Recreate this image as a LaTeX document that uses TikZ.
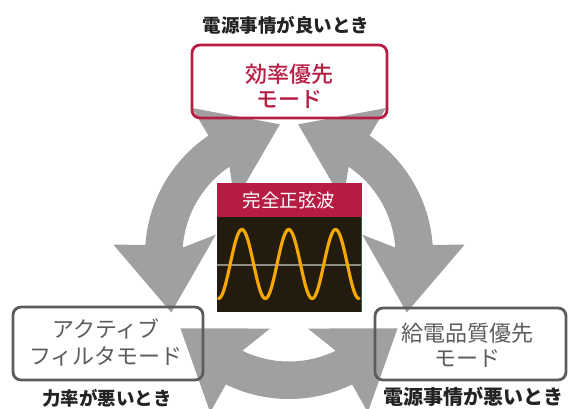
\documentclass[tikz,border=0pt]{standalone}
\usepackage{fontspec}
\setmainfont{Noto Sans CJK JP}
\newfontfamily\jpmed{Noto Sans CJK JP Medium}
\definecolor{crim}{RGB}{183,28,66}
\definecolor{agray}{RGB}{160,160,160}
\definecolor{bgray}{RGB}{92,92,92}
\definecolor{panelbg}{RGB}{36,27,15}
\definecolor{wave}{RGB}{245,168,0}
\definecolor{txt}{RGB}{35,35,35}
\definecolor{axisgray}{RGB}{140,140,130}
\begin{document}
\begin{tikzpicture}[x=1pt,y=1pt,yscale=-1,
  boxline/.style={line width=2.8pt, rounded corners=8pt},
  boxtext/.style={align=center, inner sep=0pt, font=\fontsize{22}{25}\selectfont},
  lab/.style={inner sep=0pt, text=txt, font=\bfseries\fontsize{18.5}{20}\selectfont}]
\useasboundingbox (0,0) rectangle (568,409);
% three double-headed curved arrows
\foreach \r in {0,120,240}{
  \begin{scope}[shift={(289,255)},rotate=\r]
    \fill[agray] (184:144) arc[start angle=184,end angle=236,radius=144]
      -- (236.6:176) -- (266:131) -- (224.5:76) -- (236:106.5)
      arc[start angle=236,end angle=184,radius=106.5]
      -- (195.5:76) -- (154:131) -- (183.4:176) -- cycle;
  \end{scope}
}
% centre panel
\fill[panelbg] (217,217) rectangle (361,312);
\fill[crim] (217,183) rectangle (361,217);
\draw[axisgray, line width=1.3pt] (217,265) -- (361,265);
\draw[wave, line width=3.2pt, line cap=round]
  plot[domain=218.5:359, samples=160, smooth] (\x, {264+34.5*cos(7.6874*(\x-218.5))});
\draw[crim, line width=0.8pt] (361,183) -- (361,312);
\node[text=white, inner sep=0pt, font=\fontsize{18.5}{20}\selectfont] (sine) at (289,200) {完全正弦波};
% boxes
\draw[crim, boxline] (192,45) rectangle (387,118);
\draw[bgray, boxline] (13,307) rectangle (203,380);
\draw[bgray, boxline] (375,308) rectangle (566,380);
\node[boxtext, text=crim, font=\jpmed\fontsize{22}{25}\selectfont] (eff) at (289.5,86) {効率優先\\モード};
\node[boxtext, text=bgray, font=\fontsize{22}{27}\selectfont] (act) at (106,342.5) {アクティブ\\フィルタモード};
\node[boxtext, text=bgray] (qual) at (467,345) {給電品質優先\\モード};
% labels
\node[lab] (good) at (286,25) {電源事情が良いとき};
\node[lab] (pf) at (107,398) {力率が悪いとき};
\node[lab, anchor=west, font=\bfseries\fontsize{20}{22}\selectfont] (bad) at (383,397) {電源事情が悪いとき};
\end{tikzpicture}
\end{document}
